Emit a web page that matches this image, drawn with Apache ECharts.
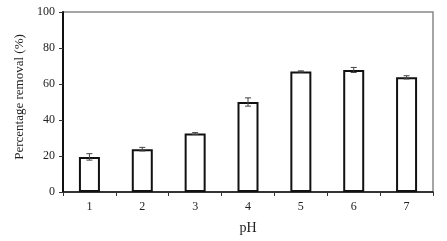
<!DOCTYPE html>
<html><head><meta charset="utf-8">
<script src="https://cdn.jsdelivr.net/npm/echarts@6/dist/echarts.min.js"></script>
<style>html,body{margin:0;padding:0;background:#fff}#c{width:447px;height:241px}</style>
</head><body><div id="c"></div>
<script>
const categories = ['1','2','3','4','5','6','7'];
const removal = [19.5, 23.8, 32.5, 50.0, 67.0, 67.8, 63.7];
const errors = [1.8, 1.0, 0.5, 2.3, 0.3, 1.4, 0.9];
const yTicks = [0, 20, 40, 60, 80, 100];

const chart = echarts.init(document.getElementById('c'));
const font = 'Liberation Serif';
chart.setOption({
  animation: false,
  grid: {left: 63, right: 14, top: 12, bottom: 49, show: true, borderColor: '#888', borderWidth: 1.5},
  xAxis: {
    type: 'category', data: categories,
    name: 'pH', nameLocation: 'middle', nameGap: 29,
    nameTextStyle: {fontFamily: font, fontSize: 14, color: '#222'},
    axisLine: {lineStyle: {color: '#111', width: 1.5}},
    axisTick: {show: true, inside: false, length: 4, lineStyle: {color: '#333'}},
    axisLabel: {fontFamily: font, fontSize: 12, color: '#222', margin: 9}
  },
  yAxis: {
    type: 'value', min: 0, max: 100, interval: 20,
    name: 'Percentage removal (%)', nameLocation: 'middle', nameGap: 29,
    nameTextStyle: {fontFamily: font, fontSize: 13, color: '#222', padding: [0, 0, 0, 10]},
    axisLine: {show: true, lineStyle: {color: '#111', width: 2}},
    axisTick: {show: true, length: 4, lineStyle: {color: '#333'}},
    axisLabel: {fontFamily: font, fontSize: 12, color: '#222', margin: 8,
      formatter: v => yTicks.includes(v) ? String(v) : ''},
    splitLine: {show: false}
  },
  series: [
    {
      type: 'bar', data: removal, barWidth: 21,
      itemStyle: {color: '#fff', borderColor: '#111', borderWidth: 2}
    },
    {
      type: 'custom',
      data: removal.map((v, i) => [i, v - errors[i], v + errors[i]]),
      renderItem: (params, api) => {
        const x = api.value(0);
        const lo = api.coord([x, api.value(1)]);
        const hi = api.coord([x, api.value(2)]);
        const w = 3;
        const st = {stroke: '#444', lineWidth: 1};
        return {type: 'group', children: [
          {type: 'line', shape: {x1: lo[0], y1: lo[1], x2: hi[0], y2: hi[1]}, style: st},
          {type: 'line', shape: {x1: lo[0]-w, y1: lo[1], x2: lo[0]+w, y2: lo[1]}, style: st},
          {type: 'line', shape: {x1: hi[0]-w, y1: hi[1], x2: hi[0]+w, y2: hi[1]}, style: st}
        ]};
      },
      z: 10
    }
  ]
});
</script></body></html>
